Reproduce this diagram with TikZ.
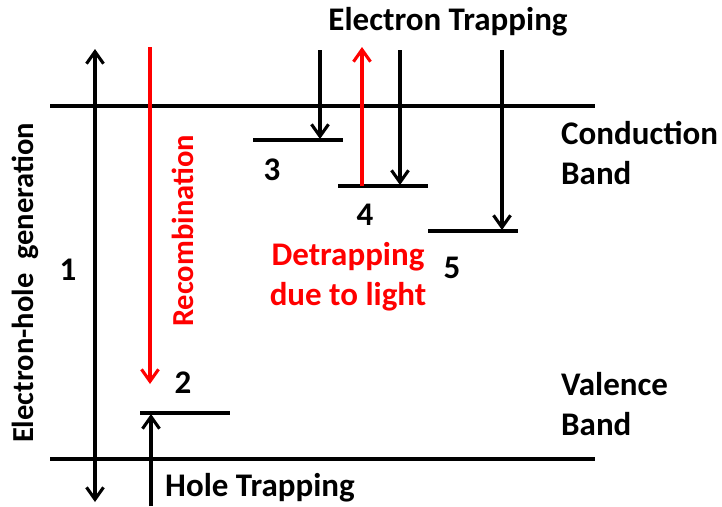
\documentclass[tikz,border=0pt]{standalone}
\usepackage{fontspec}
\setmainfont{Carlito}
\usetikzlibrary{arrows.meta}
\begin{document}
\begin{tikzpicture}[x=1pt,y=-1pt,
  band/.style={line width=3.3pt},
  lvl/.style={line width=3.3pt},
  arr/.style={line width=3.1pt,-{Straight Barb[length=12pt,width=17pt,line width=3.1pt]}},
  darr/.style={line width=3.1pt,{Straight Barb[length=12pt,width=17pt,line width=3.1pt]}-{Straight Barb[length=12pt,width=17pt,line width=3.1pt]}},
  big/.style={font=\fontsize{33}{40}\selectfont\bfseries, inner sep=0pt},
  mid/.style={font=\fontsize{30.5}{37}\selectfont\bfseries, inner sep=0pt},
  red/.style={color=red}]
\useasboundingbox (0,0) rectangle (722,506);
% bands
\coordinate (cbL) at (50,106); \coordinate (cbR) at (595,106);
\coordinate (vbL) at (50,459); \coordinate (vbR) at (595,459);
\draw[band] (cbL) -- (cbR);
\draw[band] (vbL) -- (vbR);
% levels
\coordinate (l2a) at (140,413); \coordinate (l2b) at (230,413);
\coordinate (l3a) at (253,140); \coordinate (l3b) at (343,140);
\coordinate (l4a) at (338,186); \coordinate (l4b) at (428,186);
\coordinate (l5a) at (428,231); \coordinate (l5b) at (518,231);
\draw[lvl] (l2a) -- (l2b);
\draw[lvl] (l3a) -- (l3b);
\draw[lvl] (l4a) -- (l4b);
\draw[lvl] (l5a) -- (l5b);
% arrows
\coordinate (g1) at (95,502); \coordinate (g2) at (95,49);
\draw[darr] (g1) -- (g2);
\coordinate (r1) at (150,47); \coordinate (r2) at (150,384);
\draw[arr,red] (r1) -- (r2);
\coordinate (h1) at (151,506); \coordinate (h2) at (151,414);
\draw[arr] (h1) -- (h2);
\coordinate (t3a) at (320,50); \coordinate (t3b) at (320,139);
\draw[arr] (t3a) -- (t3b);
\coordinate (d4a) at (362,186); \coordinate (d4b) at (362,47);
\draw[arr,red] (d4a) -- (d4b);
\coordinate (t4a) at (400,50); \coordinate (t4b) at (400,185);
\draw[arr] (t4a) -- (t4b);
\coordinate (t5a) at (502,50); \coordinate (t5b) at (502,230);
\draw[arr] (t5a) -- (t5b);
% labels
\node[big] (et) at (448,22) {Electron Trapping};
\node[big,anchor=west] (cb1) at (561,133) {Conduction};
\node[big,anchor=west] (cb2) at (561,173) {Band};
\node[big,anchor=west] (vb1) at (561,384) {Valence};
\node[big,anchor=west] (vb2) at (561,424) {Band};
\node[big,anchor=west] (ht) at (165,488) {Hole Trapping};
\node[big,red] (dt1) at (348,257) {Detrapping};
\node[big,red] (dt2) at (348,297) {due to light};
\node[big] (n1) at (68,270) {1};
\node[big] (n2) at (183,383) {2};
\node[big] (n3) at (272,170) {3};
\node[big] (n4) at (365,215) {4};
\node[big] (n5) at (452,268) {5};
\node[mid,red,rotate=90] (rc) at (183,231) {Recombination};
\node[mid,rotate=90] (eh) at (25,283) {Electron-hole\ \ generation};
\end{tikzpicture}
\end{document}
